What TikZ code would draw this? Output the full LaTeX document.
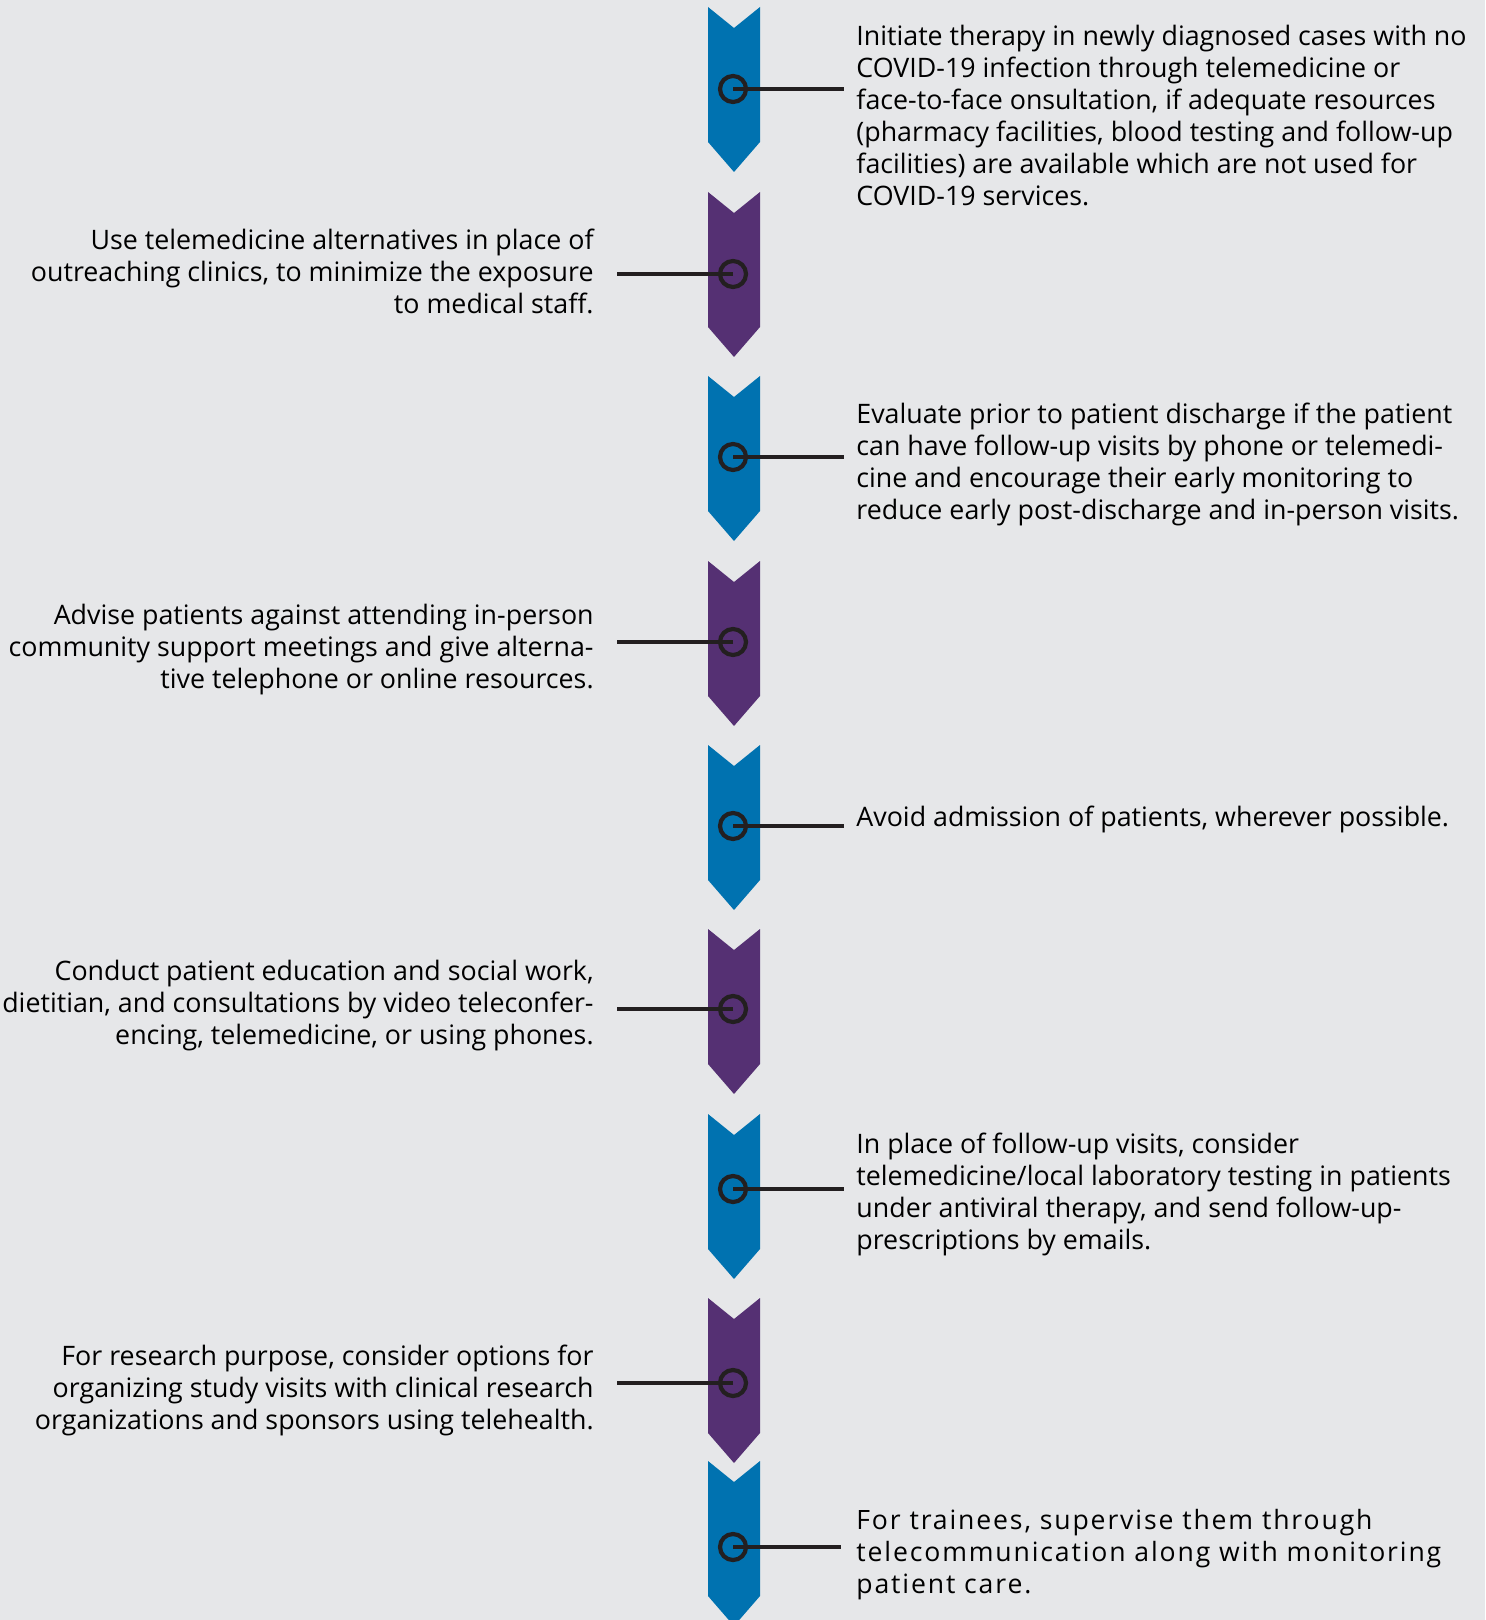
\documentclass[tikz,border=0pt]{standalone}
\usepackage{fontspec}
\setmainfont{Open Sans}
\newfontfamily\wideface[LetterSpace=7]{Open Sans}
\definecolor{bgGrey}{RGB}{230,231,233}
\definecolor{stepBlue}{RGB}{0,114,176}
\definecolor{stepPurple}{RGB}{85,48,115}
\definecolor{lineDark}{RGB}{35,31,32}

\begin{document}
\begin{tikzpicture}[x=0.5pt,y=-0.5pt,
            ring/.style={circle, draw=lineDark, line width=2.1pt, minimum size=13pt, inner sep=0pt},
            link/.style={draw=lineDark, line width=1.8pt},
            rtext/.style={anchor=west, align=left, inner sep=0pt, font=\fontsize{13.4}{16}\selectfont},
            ltext/.style={anchor=east, align=right, inner sep=0pt, font=\fontsize{13.4}{16}\selectfont}]
            \path[use as bounding box, fill=bgGrey] (0,0) rectangle (1485,1620);
            \clip (0,0) rectangle (1485,1620);
            % chevrons
            \foreach \t/\c in {7/stepBlue,192/stepPurple,376/stepBlue,561/stepPurple,745/stepBlue,
                               929/stepPurple,1114/stepBlue,1298/stepPurple,1461/stepBlue}
                \fill[\c] (708,\t) -- (734,\t+21) -- (760,\t) -- (760,\t+135)
                          -- (734,\t+165) -- (708,\t+135) -- cycle;
            % rings
            \node[ring] (c1) at (733,89) {};
            \node[ring] (c2) at (733,274) {};
            \node[ring] (c3) at (733,457) {};
            \node[ring] (c4) at (733,642) {};
            \node[ring] (c5) at (733,826) {};
            \node[ring] (c6) at (733,1009) {};
            \node[ring] (c7) at (733,1189) {};
            \node[ring] (c8) at (733,1383) {};
            \node[ring] (c9) at (733,1547) {};
            % texts
            \node[rtext] (t1) at (856,116) {Initiate therapy in newly diagnosed cases with no\\COVID-19 infection through telemedicine or\\face-to-face onsultation, if adequate resources\\(pharmacy facilities, blood testing and follow-up\\facilities) are available which are not used for\\COVID-19 services.};
            \node[ltext] (t2) at (594,271) {Use telemedicine alternatives in place of\\outreaching clinics, to minimize the exposure\\to medical staff.};
            \node[rtext] (t3) at (856,464) {Evaluate prior to patient discharge if the patient\\can have follow-up visits by phone or telemedi-\\cine and encourage their early monitoring to\\reduce early post-discharge and in-person visits.};
            \node[ltext] (t4) at (594,650) {Advise patients against attending in-person\\community support meetings and give alterna-\\tive telephone or online resources.};
            \node[rtext] (t5) at (856,819) {Avoid admission of patients, wherever possible.};
            \node[ltext] (t6) at (594,1006) {Conduct patient education and social work,\\dietitian, and consultations by video teleconfer-\\encing, telemedicine, or using phones.};
            \node[rtext] (t7) at (856,1194) {In place of follow-up visits, consider\\telemedicine/local laboratory testing in patients\\under antiviral therapy, and send follow-up-\\prescriptions by emails.};
            \node[ltext] (t8) at (594,1390) {For research purpose, consider options for\\organizing study visits with clinical research\\organizations and sponsors using telehealth.};
            \node[rtext, font=\wideface\fontsize{13.3}{16}\selectfont] (t9) at (856,1555) {For trainees, supervise them through\\telecommunication along with monitoring\\patient care.};
            % line ends
            \coordinate (e1) at (844,89);
            \coordinate (e2) at (617,274);
            \coordinate (e3) at (844,457);
            \coordinate (e4) at (617,642);
            \coordinate (e5) at (844,826);
            \coordinate (e6) at (617,1009);
            \coordinate (e7) at (844,1189);
            \coordinate (e8) at (617,1383);
            \coordinate (e9) at (841,1547);
            \foreach \i in {1,...,9}
                \draw[link] (c\i.center) -- (e\i);
        \end{tikzpicture}
\end{document}
